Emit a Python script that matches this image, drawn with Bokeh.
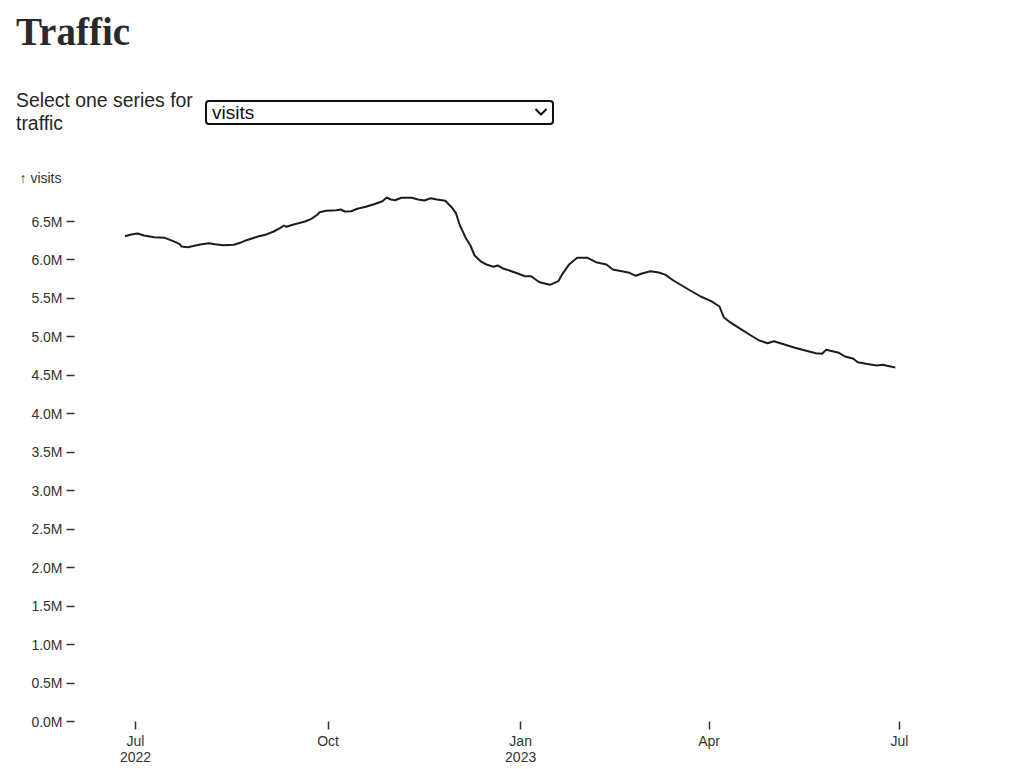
import pandas as pd
from bokeh.plotting import figure
from bokeh.models import (Div, Title, FixedTicker, PrintfTickFormatter, Range1d,
                          ColumnDataSource)
from bokeh.layouts import column
from bokeh.embed import file_html
from bokeh.resources import INLINE

# ---------------- data ----------------
title_text = "Traffic"
select_label = "Select one series for traffic"
series_options = ["visits"]
y_label = "\u2191 visits"

dates = [
    "2022-06-26", "2022-06-29", "2022-07-02", "2022-07-05", "2022-07-10", "2022-07-15",
    "2022-07-19", "2022-07-22", "2022-07-23", "2022-07-26", "2022-07-28", "2022-08-01",
    "2022-08-05", "2022-08-08", "2022-08-12", "2022-08-17", "2022-08-20", "2022-08-23",
    "2022-08-26", "2022-08-29", "2022-09-01", "2022-09-05", "2022-09-08", "2022-09-10",
    "2022-09-11", "2022-09-15", "2022-09-20", "2022-09-23", "2022-09-26", "2022-09-27",
    "2022-09-30", "2022-10-05", "2022-10-07", "2022-10-09", "2022-10-12", "2022-10-15",
    "2022-10-19", "2022-10-23", "2022-10-27", "2022-10-29", "2022-10-31", "2022-11-02",
    "2022-11-05", "2022-11-10", "2022-11-13", "2022-11-16", "2022-11-19", "2022-11-22",
    "2022-11-26", "2022-11-29", "2022-12-01", "2022-12-03", "2022-12-06", "2022-12-08",
    "2022-12-10", "2022-12-13", "2022-12-16", "2022-12-19", "2022-12-21", "2022-12-24",
    "2022-12-28", "2022-12-31", "2023-01-03", "2023-01-06", "2023-01-10", "2023-01-15",
    "2023-01-19", "2023-01-21", "2023-01-24", "2023-01-28", "2023-02-02", "2023-02-06",
    "2023-02-11", "2023-02-14", "2023-02-19", "2023-02-22", "2023-02-25", "2023-02-28",
    "2023-03-04", "2023-03-08", "2023-03-11", "2023-03-15", "2023-03-19", "2023-03-23",
    "2023-03-28", "2023-04-02", "2023-04-06", "2023-04-08", "2023-04-11", "2023-04-16",
    "2023-04-21", "2023-04-25", "2023-04-29", "2023-05-02", "2023-05-07", "2023-05-12",
    "2023-05-17", "2023-05-22", "2023-05-25", "2023-05-27", "2023-05-30", "2023-06-02",
    "2023-06-05", "2023-06-09", "2023-06-11", "2023-06-15", "2023-06-20", "2023-06-23",
    "2023-06-25", "2023-06-29",
]
visits_millions = [
    6.309, 6.331, 6.344, 6.318, 6.296, 6.288,
    6.244, 6.210, 6.175, 6.166, 6.179, 6.201,
    6.218, 6.205, 6.192, 6.197, 6.223, 6.257,
    6.283, 6.309, 6.327, 6.370, 6.413, 6.448,
    6.431, 6.465, 6.500, 6.535, 6.591, 6.621,
    6.639, 6.647, 6.656, 6.630, 6.634, 6.665,
    6.691, 6.725, 6.764, 6.812, 6.786, 6.777,
    6.808, 6.808, 6.786, 6.773, 6.803, 6.786,
    6.769, 6.686, 6.613, 6.448, 6.275, 6.188,
    6.058, 5.980, 5.937, 5.911, 5.928, 5.885,
    5.850, 5.820, 5.789, 5.789, 5.711, 5.677,
    5.724, 5.820, 5.937, 6.028, 6.028, 5.971,
    5.941, 5.876, 5.850, 5.833, 5.794, 5.824,
    5.854, 5.837, 5.809, 5.733, 5.668, 5.603,
    5.525, 5.464, 5.395, 5.256, 5.191, 5.105,
    5.018, 4.953, 4.918, 4.944, 4.901, 4.858,
    4.823, 4.788, 4.780, 4.832, 4.814, 4.793,
    4.745, 4.715, 4.671, 4.650, 4.628, 4.637,
    4.624, 4.602,
]

y_ticks = [0.0, 0.5, 1.0, 1.5, 2.0, 2.5, 3.0, 3.5, 4.0, 4.5, 5.0, 5.5, 6.0, 6.5]
x_tick_dates = ["2022-07-01", "2022-10-01", "2023-01-01", "2023-04-01", "2023-07-01"]
x_tick_labels = ["Jul\n2022", "Oct", "Jan\n2023", "Apr", "Jul"]

# ---------------- layout constants ----------------
FONT = "'Liberation Sans', Arial, sans-serif"
TICK_COLOR = "#333333"
ref = pd.Timestamp("2022-07-01")
x_start = ref + pd.Timedelta(days=-29.14)
x_end = ref + pd.Timedelta(days=418.97)

# ---------------- header (title + select) ----------------
options_html = "".join(f"<option>{o}</option>" for o in series_options)
header_html = f"""
<div style="position:relative;width:1024px;height:157px;">
  <div style="position:absolute;left:16px;top:13px;font-family:'Liberation Serif',Georgia,serif;
       font-weight:bold;font-size:39px;line-height:38px;color:#2a2a2a;">{title_text}</div>
  <div style="position:absolute;left:16px;top:89px;width:190px;font-family:{FONT};
       font-size:19.4px;line-height:23px;color:#262626;">{select_label}</div>
  <select style="position:absolute;left:205px;top:100px;width:349px;height:25px;
       box-sizing:border-box;border:2px solid #111;border-radius:4px;background-color:#fff;
       -webkit-appearance:none;appearance:none;
       font-family:{FONT};font-size:19px;line-height:21px;color:#111;padding:0 5px;">{options_html}</select>
  <svg style="position:absolute;left:534px;top:107px;pointer-events:none;" width="14" height="10"
       viewBox="0 0 14 10"><path d="M1.5 2 L7 7.5 L12.5 2" fill="none" stroke="#111"
       stroke-width="2"/></svg>
</div>
"""
header = Div(text=header_html, width=1024, height=157, margin=0)

# ---------------- chart ----------------
src = ColumnDataSource(dict(date=pd.to_datetime(dates), visits=visits_millions))

p = figure(width=1024, height=612, x_axis_type="datetime",
           output_backend="svg", toolbar_location=None,
           x_range=Range1d(start=x_start, end=x_end),
           y_range=Range1d(start=0, end=6.903),
           min_border_left=74, min_border_right=12,
           min_border_top=33, min_border_bottom=48, margin=0)
p.outline_line_color = None
p.xgrid.visible = False
p.ygrid.visible = False
p.background_fill_color = "white"
p.border_fill_color = "white"

p.line(x="date", y="visits", source=src, line_width=2, line_color="#1c1c1c")

p.add_layout(Title(text=y_label, align="left", offset=-55, text_font_size="14px",
                   text_font_style="normal", text_color=TICK_COLOR,
                   text_font="Liberation Sans"), "above")

# y axis
ya = p.yaxis[0]
ya.ticker = FixedTicker(ticks=y_ticks)
ya.formatter = PrintfTickFormatter(format="%.1fM")
ya.axis_line_color = None
ya.major_tick_in = 0
ya.major_tick_out = 8
ya.minor_tick_line_color = None
ya.major_tick_line_color = TICK_COLOR
ya.major_tick_line_width = 1.5
ya.major_label_standoff = 4
ya.major_label_text_font = "Liberation Sans"
ya.major_label_text_font_size = "14px"
ya.major_label_text_color = TICK_COLOR

# x axis
xt = [pd.Timestamp(d).value // 10**6 for d in x_tick_dates]
xa = p.xaxis[0]
xa.ticker = FixedTicker(ticks=xt)
xa.major_label_overrides = {t: lab for t, lab in zip(xt, x_tick_labels)}
xa.axis_line_color = None
xa.major_tick_in = 0
xa.major_tick_out = 8
xa.minor_tick_line_color = None
xa.major_tick_line_color = TICK_COLOR
xa.major_tick_line_width = 1.5
xa.major_label_standoff = 3
xa.major_label_text_font = "Liberation Sans"
xa.major_label_text_font_size = "14px"
xa.major_label_text_line_height = 1.0
xa.major_label_text_color = TICK_COLOR

layout = column(header, p, margin=0, spacing=0)

open("out.html", "w").write(file_html(layout, INLINE))
